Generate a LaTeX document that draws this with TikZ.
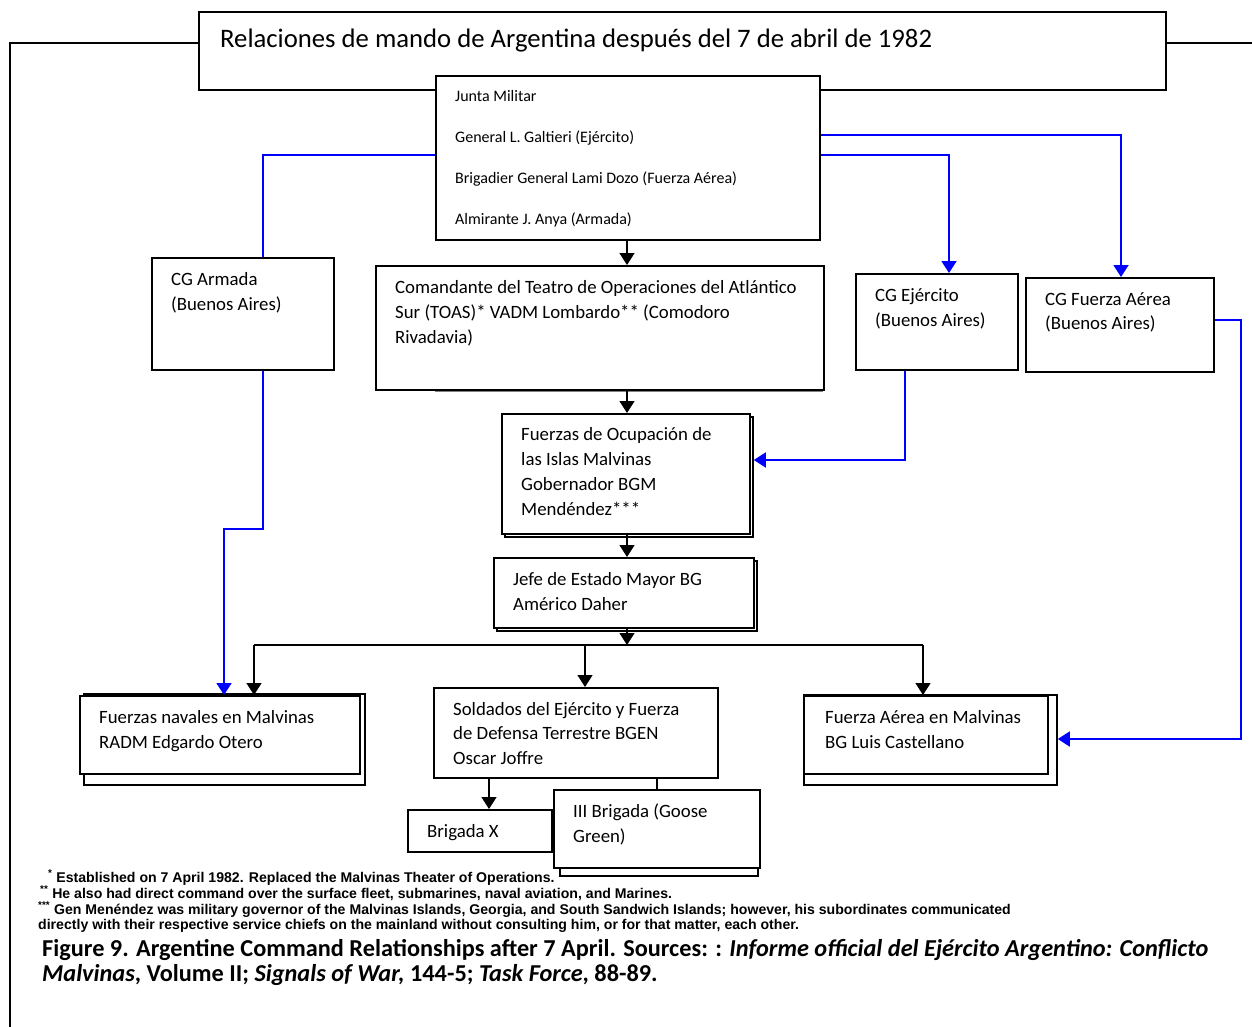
\documentclass[tikz,border=0pt]{standalone}
\usepackage{fontspec}
\setmainfont{Carlito}
\newfontfamily\arialf{Liberation Sans}
\usetikzlibrary{arrows.meta,calc}
\begin{document}
\begin{tikzpicture}[x=1pt,y=-1pt,
  box/.style={draw, line width=1.8pt, fill=white, anchor=north west, inner sep=0pt},
  shbox/.style={draw, line width=1.8pt, fill=white, anchor=north west, inner sep=0pt},
  txt/.style={anchor=base west, align=left, inner sep=0pt, font=\fontsize{18.8}{25}\selectfont},
  jtxt/.style={anchor=base west, inner sep=0pt, font=\fontsize{16}{18}\selectfont},
  blk/.style={line width=1.4pt, -{Triangle[length=12pt,width=15pt]}},
  bline/.style={line width=1.4pt},
  blu/.style={line width=1.8pt, blue, -{Triangle[length=12pt,width=15pt]}},
  bluline/.style={line width=1.8pt, blue},
  fn/.style={anchor=base west, inner sep=0pt, font=\arialf\bfseries\fontsize{14.1}{16}\selectfont},
  captxt/.style={anchor=base west, inner sep=0pt, font=\bfseries\fontsize{24.3}{25}\selectfont}
]
\useasboundingbox (0,0) rectangle (1252,1027);
\fill[white] (0,0) rectangle (1252,1027);

% frame lines
\coordinate (fl) at (10,1027);
\coordinate (fr) at (1252,43);
\node[box, minimum width=967pt, minimum height=78pt] (title) at (198,11) {};
\draw[line width=1.8pt] (fl) |- (title.west |- fr);
\draw[line width=1.8pt] (title.east |- fr) -- (fr);
\node[txt, font=\fontsize{26.7}{30}\selectfont] (titletxt) at (220,48) {Relaciones de mando de Argentina después del 7 de abril de 1982};

% Junta
\node[box, minimum width=384pt, minimum height=164pt] (junta) at (435,75) {};
\node[jtxt] (j1) at (455,102) {Junta Militar};
\node[jtxt] (j2) at (455,143) {General L. Galtieri (Ejército)};
\node[jtxt] (j3) at (455,184) {Brigadier General Lami Dozo (Fuerza Aérea)};
\node[jtxt] (j4) at (455,224) {Almirante J. Anya (Armada)};

% second row (text nodes anchored at the baseline of their last line)
\node[box, minimum width=182pt, minimum height=112pt] (armada) at (151,257) {};
\node[txt] (armadat) at (171,310) {CG Armada\\(Buenos Aires)};

\draw[line width=1.2pt, gray] (435,391) -- (823,391);
\node[box, minimum width=448pt, minimum height=124pt] (toas) at (375,265) {};
\node[txt] (toast) at (395,343) {Comandante del Teatro de Operaciones del Atlántico\\Sur (TOAS)* VADM Lombardo** (Comodoro\\Rivadavia)};

\node[box, minimum width=162pt, minimum height=96pt] (ejer) at (855,273) {};
\node[txt] (ejert) at (875,326) {CG Ejército\\(Buenos Aires)};

\node[box, minimum width=188pt, minimum height=94pt] (fa) at (1025,277) {};
\node[txt, font=\fontsize{18.8}{24}\selectfont] (fat) at (1045,329) {CG Fuerza Aérea\\(Buenos Aires)};

% Ocupacion
\node[shbox, minimum width=248pt, minimum height=120pt] (ocupsh) at (504,416) {};
\node[box, minimum width=248pt, minimum height=120pt] (ocup) at (501,413) {};
\node[txt, font=\fontsize{18.8}{24.7}\selectfont] (ocupt) at (521,515) {Fuerzas de Ocupación de\\las Islas Malvinas\\Gobernador BGM\\Mendéndez***};

% Jefe
\node[shbox, minimum width=260pt, minimum height=70pt] (jefesh) at (496,560) {};
\node[box, minimum width=260pt, minimum height=70pt] (jefe) at (493,557) {};
\node[txt] (jefet) at (513,610) {Jefe de Estado Mayor BG\\Américo Daher};

% bottom row
\node[shbox, minimum width=281pt, minimum height=91pt] (navsh) at (83,693) {};
\node[box, minimum width=280pt, minimum height=78pt] (nav) at (79,695) {};
\node[txt] (navt) at (99,748) {Fuerzas navales en Malvinas\\RADM Edgardo Otero};

\node[box, minimum width=284pt, minimum height=90pt] (sold) at (433,687) {};
\node[txt, font=\fontsize{18.8}{24.5}\selectfont] (soldt) at (453,764) {Soldados del Ejército y Fuerza\\de Defensa Terrestre BGEN\\Oscar Joffre};

\node[shbox, minimum width=253pt, minimum height=90pt] (famsh) at (803,694) {};
\node[box, minimum width=244pt, minimum height=78pt] (fam) at (803,695) {};
\node[txt] (famt) at (825,748) {Fuerza Aérea en Malvinas\\BG Luis Castellano};

\node[box, minimum width=144pt, minimum height=42pt] (brx) at (407,809) {};
\node[txt] (brxt) at (427,837) {Brigada X};

\draw[bline] (sold.south -| 657,0) -- (657,789);
\node[shbox, minimum width=198pt, minimum height=86pt] (br3sh) at (559,789) {};
\node[box, minimum width=206pt, minimum height=78pt] (br3) at (553,789) {};
\node[txt] (br3t) at (573,842) {III Brigada (Goose\\Green)};

% black connectors
\draw[blk] (junta.south -| 627,0) -- (toas.north -| 627,0);
\draw[blk] (toas.south -| 627,0) -- (ocup.north -| 627,0);
\draw[blk] (ocup.south -| 627,0) -- (jefe.north -| 627,0);
\coordinate (bus) at (627,645);
\draw[blk] (jefe.south -| 627,0) -- (bus);
\draw[bline] (254,645) -- (923,645);
\draw[blk] (254,645) -- (nav.north -| 254,0);
\draw[blk] (585,645) -- (sold.north -| 585,0);
\draw[blk] (923,645) -- (fam.north -| 923,0);
\draw[blk] (sold.south -| 489,0) -- (brx.north -| 489,0);

% blue connectors
\draw[bluline] (junta.west |- 0,155) -| (armada.north -| 263,0);
\draw[blu] (junta.east |- 0,155) -| (ejer.north -| 949,0);
\draw[blu] (junta.east |- 0,135) -| (fa.north -| 1121,0);
\draw[blu] (armada.south -| 263,0) -- (263,529) -- (224,529) -- (nav.north -| 224,0);
\draw[blu] (ejer.south -| 905,0) -- (905,460) -- (ocupsh.east |- 0,460);
\draw[blu] (fa.east |- 0,320) -- (1241,320) -- (1241,739) -- (famsh.east |- 0,739);

% footnotes
\node[fn] (f1) at (48,882) {\textsuperscript{*} Established on 7 April 1982. Replaced the Malvinas Theater of Operations.};
\node[fn] (f2) at (40,898) {\textsuperscript{**} He also had direct command over the surface fleet, submarines, naval aviation, and Marines.};
\node[fn] (f3) at (38,914) {\textsuperscript{***} Gen Menéndez was military governor of the Malvinas Islands, Georgia, and South Sandwich Islands; however, his subordinates communicated};
\node[fn] (f4) at (38,929) {directly with their respective service chiefs on the mainland without consulting him, or for that matter, each other.};

% caption
\node[captxt] (c1) at (42,956) {Figure 9. Argentine Command Relationships after 7 April. Sources: : \textit{Informe official del Ejército Argentino: Conflicto}};
\node[captxt] (c2) at (42,981) {\textit{Malvinas}, Volume II; \textit{Signals of War,} 144-5; \textit{Task Force}, 88-89.};
\end{tikzpicture}
\end{document}
